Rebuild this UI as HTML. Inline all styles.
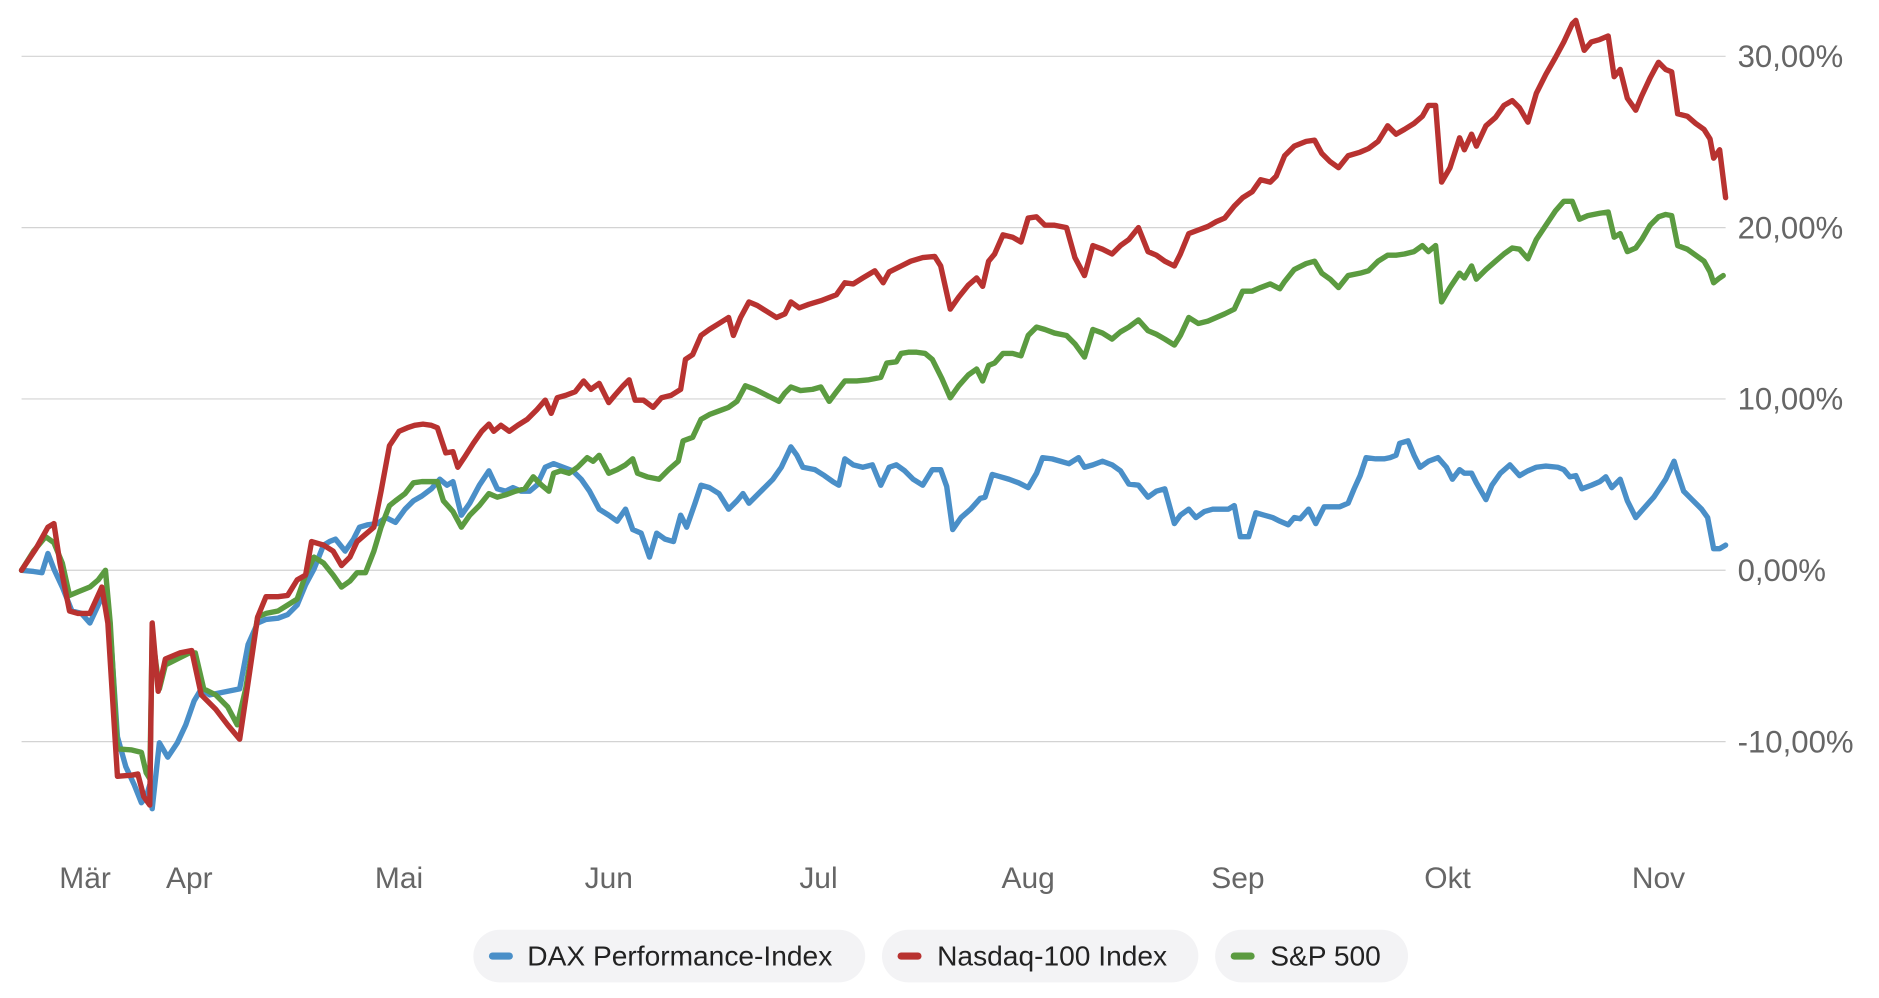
<!DOCTYPE html>
<html><head><meta charset="utf-8"><style>
html,body{margin:0;padding:0;background:#fff;width:1879px;height:998px;overflow:hidden}
svg{display:block}
text{font-family:"Liberation Sans",sans-serif}
</style></head><body>
<svg width="1879" height="998" viewBox="0 0 1568 833" preserveAspectRatio="none">
<g stroke="#d3d3d3" stroke-width="1">
<line x1="18" y1="47" x2="1440" y2="47"/><line x1="18" y1="190" x2="1440" y2="190"/>
<line x1="18" y1="333" x2="1440" y2="333"/><line x1="18" y1="476" x2="1440" y2="476"/>
<line x1="18" y1="619" x2="1440" y2="619"/>
</g>
<g fill="#666" font-size="26">
<text x="1450" y="56">30,00%</text><text x="1450" y="199">20,00%</text>
<text x="1450" y="342">10,00%</text><text x="1450" y="485">0,00%</text>
<text x="1450" y="628">-10,00%</text>
</g>
<g fill="#666" font-size="25" text-anchor="middle">
<text x="71" y="741">Mär</text><text x="158" y="741">Apr</text><text x="333" y="741">Mai</text>
<text x="508" y="741">Jun</text><text x="683" y="741">Jul</text><text x="858" y="741">Aug</text>
<text x="1033" y="741">Sep</text><text x="1208" y="741">Okt</text><text x="1384" y="741">Nov</text>
</g>
<g fill="none" stroke-width="4.5" stroke-linejoin="round" stroke-linecap="round">
<polyline stroke="#4a8fc8" points="18,476 28,477 35,478 40,462 45,475 52,490 60,510 68,512 75,520 82,505 88,492 93,540 98,615 105,640 112,655 118,670 122,665 125,655 127,675 133,620 140,632 148,620 155,605 162,585 168,575 175,580 185,578 200,575 207,538 215,520 222,517 232,516 240,513 248,505 255,488 262,475 270,455 275,452 280,450 288,460 295,450 300,440 307,438 315,437 322,432 330,436 338,425 345,418 352,414 360,408 367,400 373,405 378,402 385,430 392,420 400,405 408,393 415,408 422,410 428,407 435,410 442,410 448,405 455,390 462,387 470,390 478,393 485,400 492,410 500,425 508,430 515,435 522,425 528,442 535,445 542,465 548,445 555,450 562,452 568,430 573,440 580,420 585,405 592,407 600,412 608,425 615,418 620,412 625,420 630,415 637,408 645,400 652,390 660,373 665,380 670,390 680,392 688,397 695,402 700,405 705,383 712,388 720,390 728,388 735,405 742,390 748,388 755,393 762,400 770,405 778,392 785,392 790,406 795,442 802,432 810,425 818,416 822,415 828,396 835,398 842,400 850,403 858,407 865,395 870,382 878,383 885,385 892,387 900,382 905,390 912,388 920,385 928,388 935,393 942,404 950,405 958,415 965,410 972,408 980,437 985,430 992,425 998,432 1005,427 1012,425 1018,425 1025,425 1030,422 1035,448 1042,448 1048,428 1055,430 1062,432 1068,435 1075,438 1080,432 1085,433 1092,425 1098,437 1105,423 1112,423 1118,423 1125,420 1130,408 1135,397 1140,382 1148,383 1155,383 1160,382 1165,380 1168,370 1175,368 1180,380 1185,390 1192,385 1200,382 1207,390 1212,400 1218,392 1222,395 1228,395 1232,403 1240,417 1245,405 1252,395 1260,388 1268,397 1275,393 1282,390 1290,389 1300,390 1305,392 1310,398 1315,397 1320,408 1328,405 1335,402 1340,398 1345,407 1352,400 1358,418 1365,432 1372,424 1380,415 1390,400 1397,385 1400,395 1405,410 1412,417 1420,425 1425,432 1430,458 1435,458 1440,455"/>
<polyline stroke="#5b9b40" points="18,476 28,460 38,448 45,453 52,470 58,497 65,494 75,490 82,484 88,476 92,520 98,625 110,626 118,628 122,645 125,650 127,530 133,575 138,555 150,549 158,545 163,545 170,575 180,580 190,590 198,605 205,575 215,515 222,512 232,510 240,505 248,500 255,480 262,465 270,470 278,480 285,490 292,485 298,478 305,478 312,460 318,440 325,422 330,418 338,412 345,403 352,402 360,402 365,402 370,418 378,427 385,440 392,430 400,422 408,412 415,415 422,413 430,410 438,408 445,398 452,405 458,410 462,395 468,393 475,395 482,390 490,382 495,385 500,380 508,395 515,392 522,388 528,383 532,395 540,398 550,400 558,392 566,385 570,368 578,365 585,350 592,346 600,343 608,340 615,335 622,322 630,325 640,330 650,335 655,328 660,323 668,326 678,325 685,323 692,335 698,327 705,318 715,318 725,317 735,315 740,303 748,302 752,295 758,294 765,294 772,295 778,300 786,316 793,332 800,322 808,313 815,308 820,318 825,305 830,303 837,295 845,295 852,297 858,280 865,273 872,275 880,278 890,280 897,287 905,298 912,275 920,278 928,283 935,277 942,273 950,267 958,276 965,279 972,283 980,288 985,280 992,265 1000,270 1008,268 1015,265 1022,262 1030,258 1037,243 1045,243 1052,240 1060,237 1068,241 1072,235 1080,225 1090,220 1097,218 1103,228 1110,233 1117,240 1125,230 1135,228 1142,226 1150,218 1158,213 1165,213 1172,212 1180,210 1187,205 1192,210 1198,205 1203,252 1210,240 1218,228 1222,232 1228,222 1232,233 1240,225 1248,218 1255,212 1262,207 1268,208 1275,216 1282,200 1290,188 1298,176 1305,168 1312,168 1318,183 1325,180 1335,178 1342,177 1347,198 1352,195 1358,210 1365,207 1370,200 1377,188 1384,181 1390,179 1395,180 1400,205 1408,208 1415,213 1422,218 1427,227 1430,236 1435,232 1438,230"/>
<polyline stroke="#b83230" points="18,476 30,458 40,440 45,437 50,470 58,510 65,512 75,512 85,490 90,520 98,648 110,647 115,646 120,665 125,672 127,520 132,577 138,550 150,545 160,543 168,580 180,592 190,605 200,617 207,570 215,515 222,498 232,498 240,497 248,484 255,480 260,452 270,455 278,460 285,472 292,465 298,452 305,446 312,440 318,410 325,372 333,360 340,357 346,355 353,354 360,355 365,357 372,378 378,377 382,390 388,381 395,370 402,360 408,354 412,360 418,355 425,360 432,355 440,350 448,342 455,334 460,345 465,332 472,330 480,327 487,318 493,325 500,320 508,336 513,330 520,322 525,317 530,334 537,334 545,340 552,332 560,330 568,325 572,300 578,296 585,280 592,275 600,270 608,265 612,280 618,265 625,252 632,255 640,260 648,265 655,262 660,252 667,257 675,254 685,251 698,246 705,236 712,237 720,232 730,226 737,236 742,227 752,222 760,218 770,215 780,214 785,222 793,258 800,248 808,238 815,232 820,239 825,218 830,212 837,196 845,198 852,202 858,182 865,181 872,188 880,188 890,190 897,215 905,230 912,205 920,208 928,212 935,205 942,200 950,190 958,210 965,213 972,218 980,222 985,212 992,195 1000,192 1008,189 1015,185 1022,182 1030,172 1037,165 1045,160 1052,150 1060,152 1065,147 1072,130 1080,122 1090,118 1097,117 1103,128 1110,135 1117,140 1125,130 1135,127 1142,124 1150,118 1158,105 1165,112 1172,108 1180,103 1187,97 1192,88 1198,88 1203,152 1210,140 1218,115 1222,125 1228,112 1232,122 1240,105 1248,98 1255,88 1262,84 1268,90 1275,102 1282,78 1290,62 1298,48 1305,35 1312,20 1315,17 1322,42 1328,35 1335,33 1342,30 1347,64 1352,58 1358,82 1365,92 1370,80 1377,65 1384,52 1390,58 1395,60 1400,95 1408,97 1415,103 1422,108 1427,116 1430,132 1435,125 1440,165"/>
</g>
<g>
<rect x="395" y="776" width="327" height="44" rx="22" fill="#f3f3f5"/>
<rect x="736" y="776" width="264" height="44" rx="22" fill="#f3f3f5"/>
<rect x="1014" y="776" width="161" height="44" rx="22" fill="#f3f3f5"/>
<rect x="408" y="795" width="20" height="6" rx="3" fill="#4a8fc8"/>
<rect x="749" y="795" width="20" height="6" rx="3" fill="#b83230"/>
<rect x="1027" y="795" width="20" height="6" rx="3" fill="#5b9b40"/>
<g fill="#222" font-size="23.5">
<text x="440" y="806">DAX Performance-Index</text>
<text x="782" y="806">Nasdaq-100 Index</text>
<text x="1060" y="806">S&amp;P 500</text>
</g>
</g>
</svg>
</body></html>
